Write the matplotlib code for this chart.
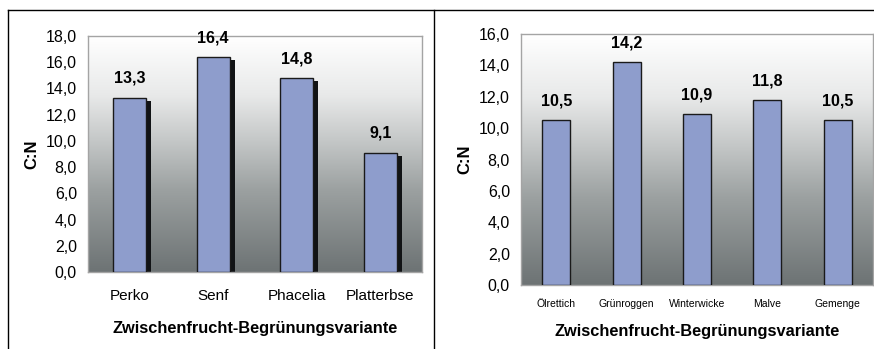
import numpy as np
import matplotlib.pyplot as plt
from matplotlib.colors import LinearSegmentedColormap
from matplotlib.lines import Line2D
from matplotlib.ticker import FuncFormatter

plt.rcParams['font.family'] = ['Liberation Sans', 'DejaVu Sans']

# Daten
sorten_1 = ["Perko", "Senf", "Phacelia", "Platterbse"]
cn_1 = [13.3, 16.4, 14.8, 9.1]

sorten_2 = ["Ölrettich", "Grünroggen", "Winterwicke", "Malve", "Gemenge"]
cn_2 = [10.5, 14.2, 10.9, 11.8, 10.5]

BAR_COL = "#8e9dcc"
xlab = "Zwischenfrucht-Begrünungsvariante"

W, H = 874, 349
fig = plt.figure(figsize=(W / 100, H / 100), dpi=100)
fig.patch.set_facecolor("white")

# Rahmen um die beiden Diagramme
def px_line(x0, y0, x1, y1):
    fig.add_artist(Line2D([x0 / W, x1 / W], [1 - y0 / H, 1 - y1 / H],
                          color="black", lw=1.0))

px_line(7.5, 10, 874, 10)
px_line(7.5, 10, 7.5, 349)
px_line(434, 10, 434, 349)

grau = LinearSegmentedColormap.from_list(
    "hg", [(0.0, "#6d7374"), (0.35, "#9ca1a1"), (0.55, "#c3c6c6"),
           (0.75, "#e8e9e9"), (1.0, "#ffffff")])


def komma(v, pos=None):
    return f"{v:.1f}".replace(".", ",")


def diagramm(rect, sorten, werte, ymax, schatten, tick_fs, tick_pad, lab_pad, ylab_x):
    ax = fig.add_axes(rect)
    x = np.arange(len(sorten))
    grad = np.linspace(0, 1, 256).reshape(-1, 1)
    ax.imshow(grad, cmap=grau, origin="lower", aspect="auto",
              extent=[0, 1, 0, 1], transform=ax.transAxes, zorder=0)
    if schatten:
        ax.bar(x + 0.06, np.array(werte) - 0.23, width=0.4, color="#111315",
               zorder=2)
    bars = ax.bar(x, werte, width=0.4, color=BAR_COL, edgecolor="#1a1a1a",
                  linewidth=1.0, zorder=3)
    for b, v in zip(bars, werte):
        ax.annotate(komma(v), (b.get_x() + b.get_width() / 2, v),
                    xytext=(0, 8.5), textcoords="offset points",
                    ha="center", va="bottom", fontsize=11.5, fontweight="bold",
                    zorder=5)
    ax.set_xlim(-0.5, len(sorten) - 0.5)
    ax.set_ylim(0, ymax)
    ax.set_yticks(np.arange(0, ymax + 0.1, 2))
    ax.yaxis.set_major_formatter(FuncFormatter(komma))
    ax.set_xticks(x)
    ax.set_xticklabels(sorten, fontsize=tick_fs)
    ax.tick_params(axis="y", length=0, pad=8, labelsize=11.5)
    ax.tick_params(axis="x", length=0, pad=tick_pad)
    for s in ax.spines.values():
        s.set_color("#a4a4a4")
        s.set_linewidth(1.0)
    ax.set_xlabel(xlab, fontsize=11.8, fontweight="bold", labelpad=lab_pad)
    ax.set_ylabel("C:N", fontsize=12, fontweight="bold")
    ax.yaxis.set_label_coords(ylab_x, 0.5)
    return ax


diagramm([88 / W, 1 - 272 / H, (422 - 88) / W, (272 - 36) / H],
         sorten_1, cn_1, 18, True, 11, 12, 13, -0.146)
diagramm([521 / W, 1 - 285 / H, (873 - 521) / W, (285 - 34) / H],
         sorten_2, cn_2, 16, False, 7.5, 10, 11, -0.137)

fig.savefig("out.png", dpi=100)
